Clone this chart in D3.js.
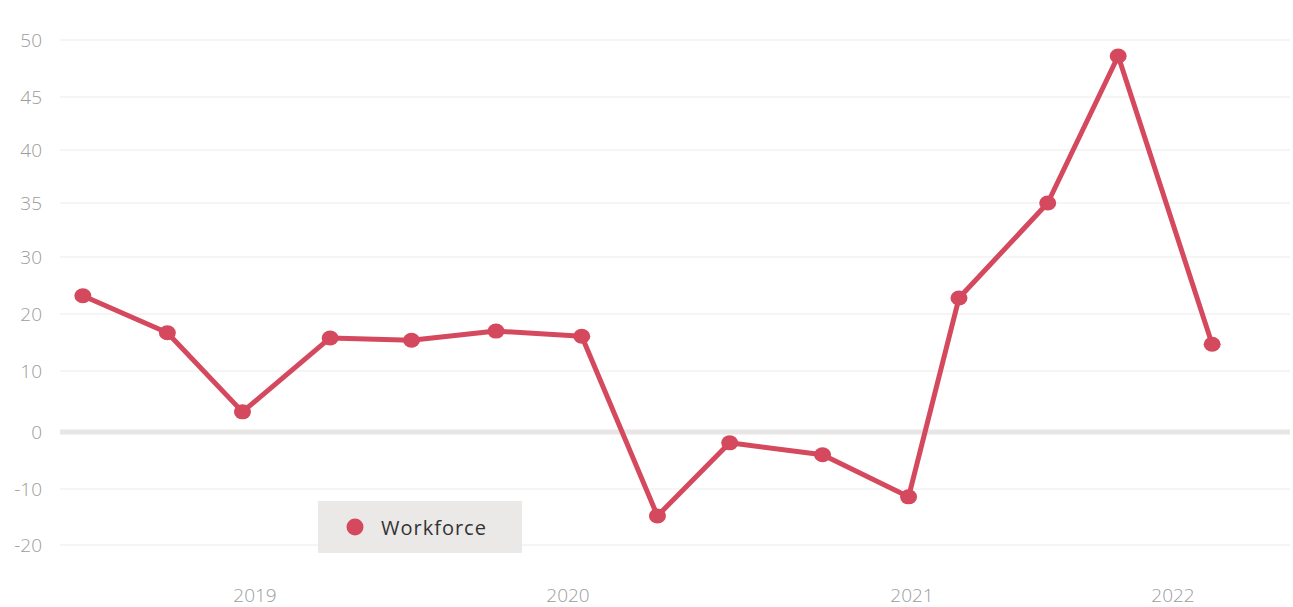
<!DOCTYPE html>
<html lang="en">
<head>
  <meta charset="UTF-8">
  <title>Workforce</title>
  <script src="https://d3js.org/d3.v7.min.js"></script>
  <style>
    body { margin: 0; background: #fff; font-family: "Open Sans", "Lato", sans-serif; }
    svg { display: block; }
  </style>
</head>
<body>
  <svg width="1293" height="607"></svg>
  <script>
    // data (x as fractional year)
    const dates = [2018.45, 2018.72, 2018.96, 2019.24, 2019.50, 2019.77, 2020.04,
                   2020.26, 2020.47, 2020.74, 2020.99, 2021.18, 2021.52, 2021.79, 2022.15];
    const workforce = [23.2, 16.7, 3.3, 15.8, 15.4, 17.0, 16.1,
                       -14.8, -1.9, -4.0, -11.4, 22.8, 35.0, 48.6, 14.7];
    const yTicks = [50, 45, 40, 35, 30, 20, 10, 0, -10, -20];
    const years = [2019, 2020, 2021, 2022];
    const seriesName = "Workforce";

    const svg = d3.select("svg");
    const left = 60, right = 1290;
    const red = "#d4495e";

    // the axis is not evenly spaced in value, so a piecewise scale
    const y = d3.scaleLinear()
      .domain([50, 45, 40, 35, 30, 20, 10, 0, -10, -20])
      .range([40, 97, 150, 203, 257, 314, 371, 432, 489, 545]);

    const x = d3.scaleLinear()
      .domain([2019, 2020, 2021, 2022])
      .range([255, 568, 912, 1173]);

    // grid
    svg.append("g").selectAll("line")
      .data(yTicks)
      .join("line")
      .attr("x1", left).attr("x2", right)
      .attr("y1", d => y(d)).attr("y2", d => y(d))
      .attr("stroke", d => d === 0 ? "#e8e6e4" : "#ebebeb")
      .attr("stroke-width", d => d === 0 ? 5 : 1);

    svg.append("g").selectAll("text")
      .data(yTicks)
      .join("text")
      .attr("x", 42)
      .attr("y", d => y(d))
      .attr("dy", "0.35em")
      .attr("text-anchor", "end")
      .attr("font-size", 19)
      .attr("font-weight", 300)
      .attr("fill", "#9c9c9c")
      .text(d => d);

    svg.append("g").selectAll("text")
      .data(years)
      .join("text")
      .attr("x", d => x(d))
      .attr("y", 595)
      .attr("dy", "0.35em")
      .attr("text-anchor", "middle")
      .attr("font-size", 19)
      .attr("font-weight", 300)
      .attr("fill", "#9c9c9c")
      .text(d => d);

    const data = dates.map((d, i) => ({ date: d, value: workforce[i] }));

    const line = d3.line()
      .x(d => x(d.date))
      .y(d => y(d.value));

    svg.append("path")
      .datum(data)
      .attr("d", line)
      .attr("fill", "none")
      .attr("stroke", red)
      .attr("stroke-width", 5)
      .attr("stroke-linejoin", "round");

    svg.append("g").selectAll("ellipse")
      .data(data)
      .join("ellipse")
      .attr("cx", d => x(d.date))
      .attr("cy", d => y(d.value))
      .attr("rx", 8.5)
      .attr("ry", 7.5)
      .attr("fill", red);

    // legend
    const lg = svg.append("g").attr("transform", "translate(318,501)");
    lg.append("rect")
      .attr("width", 204).attr("height", 52)
      .attr("fill", "#ebe9e7");
    lg.append("circle")
      .attr("cx", 37).attr("cy", 26).attr("r", 8.5)
      .attr("fill", red);
    lg.append("text")
      .attr("x", 63).attr("y", 27)
      .attr("dy", "0.35em")
      .attr("font-size", 20)
      .attr("letter-spacing", 1)
      .attr("fill", "#333")
      .text(seriesName);
  </script>
</body>
</html>
